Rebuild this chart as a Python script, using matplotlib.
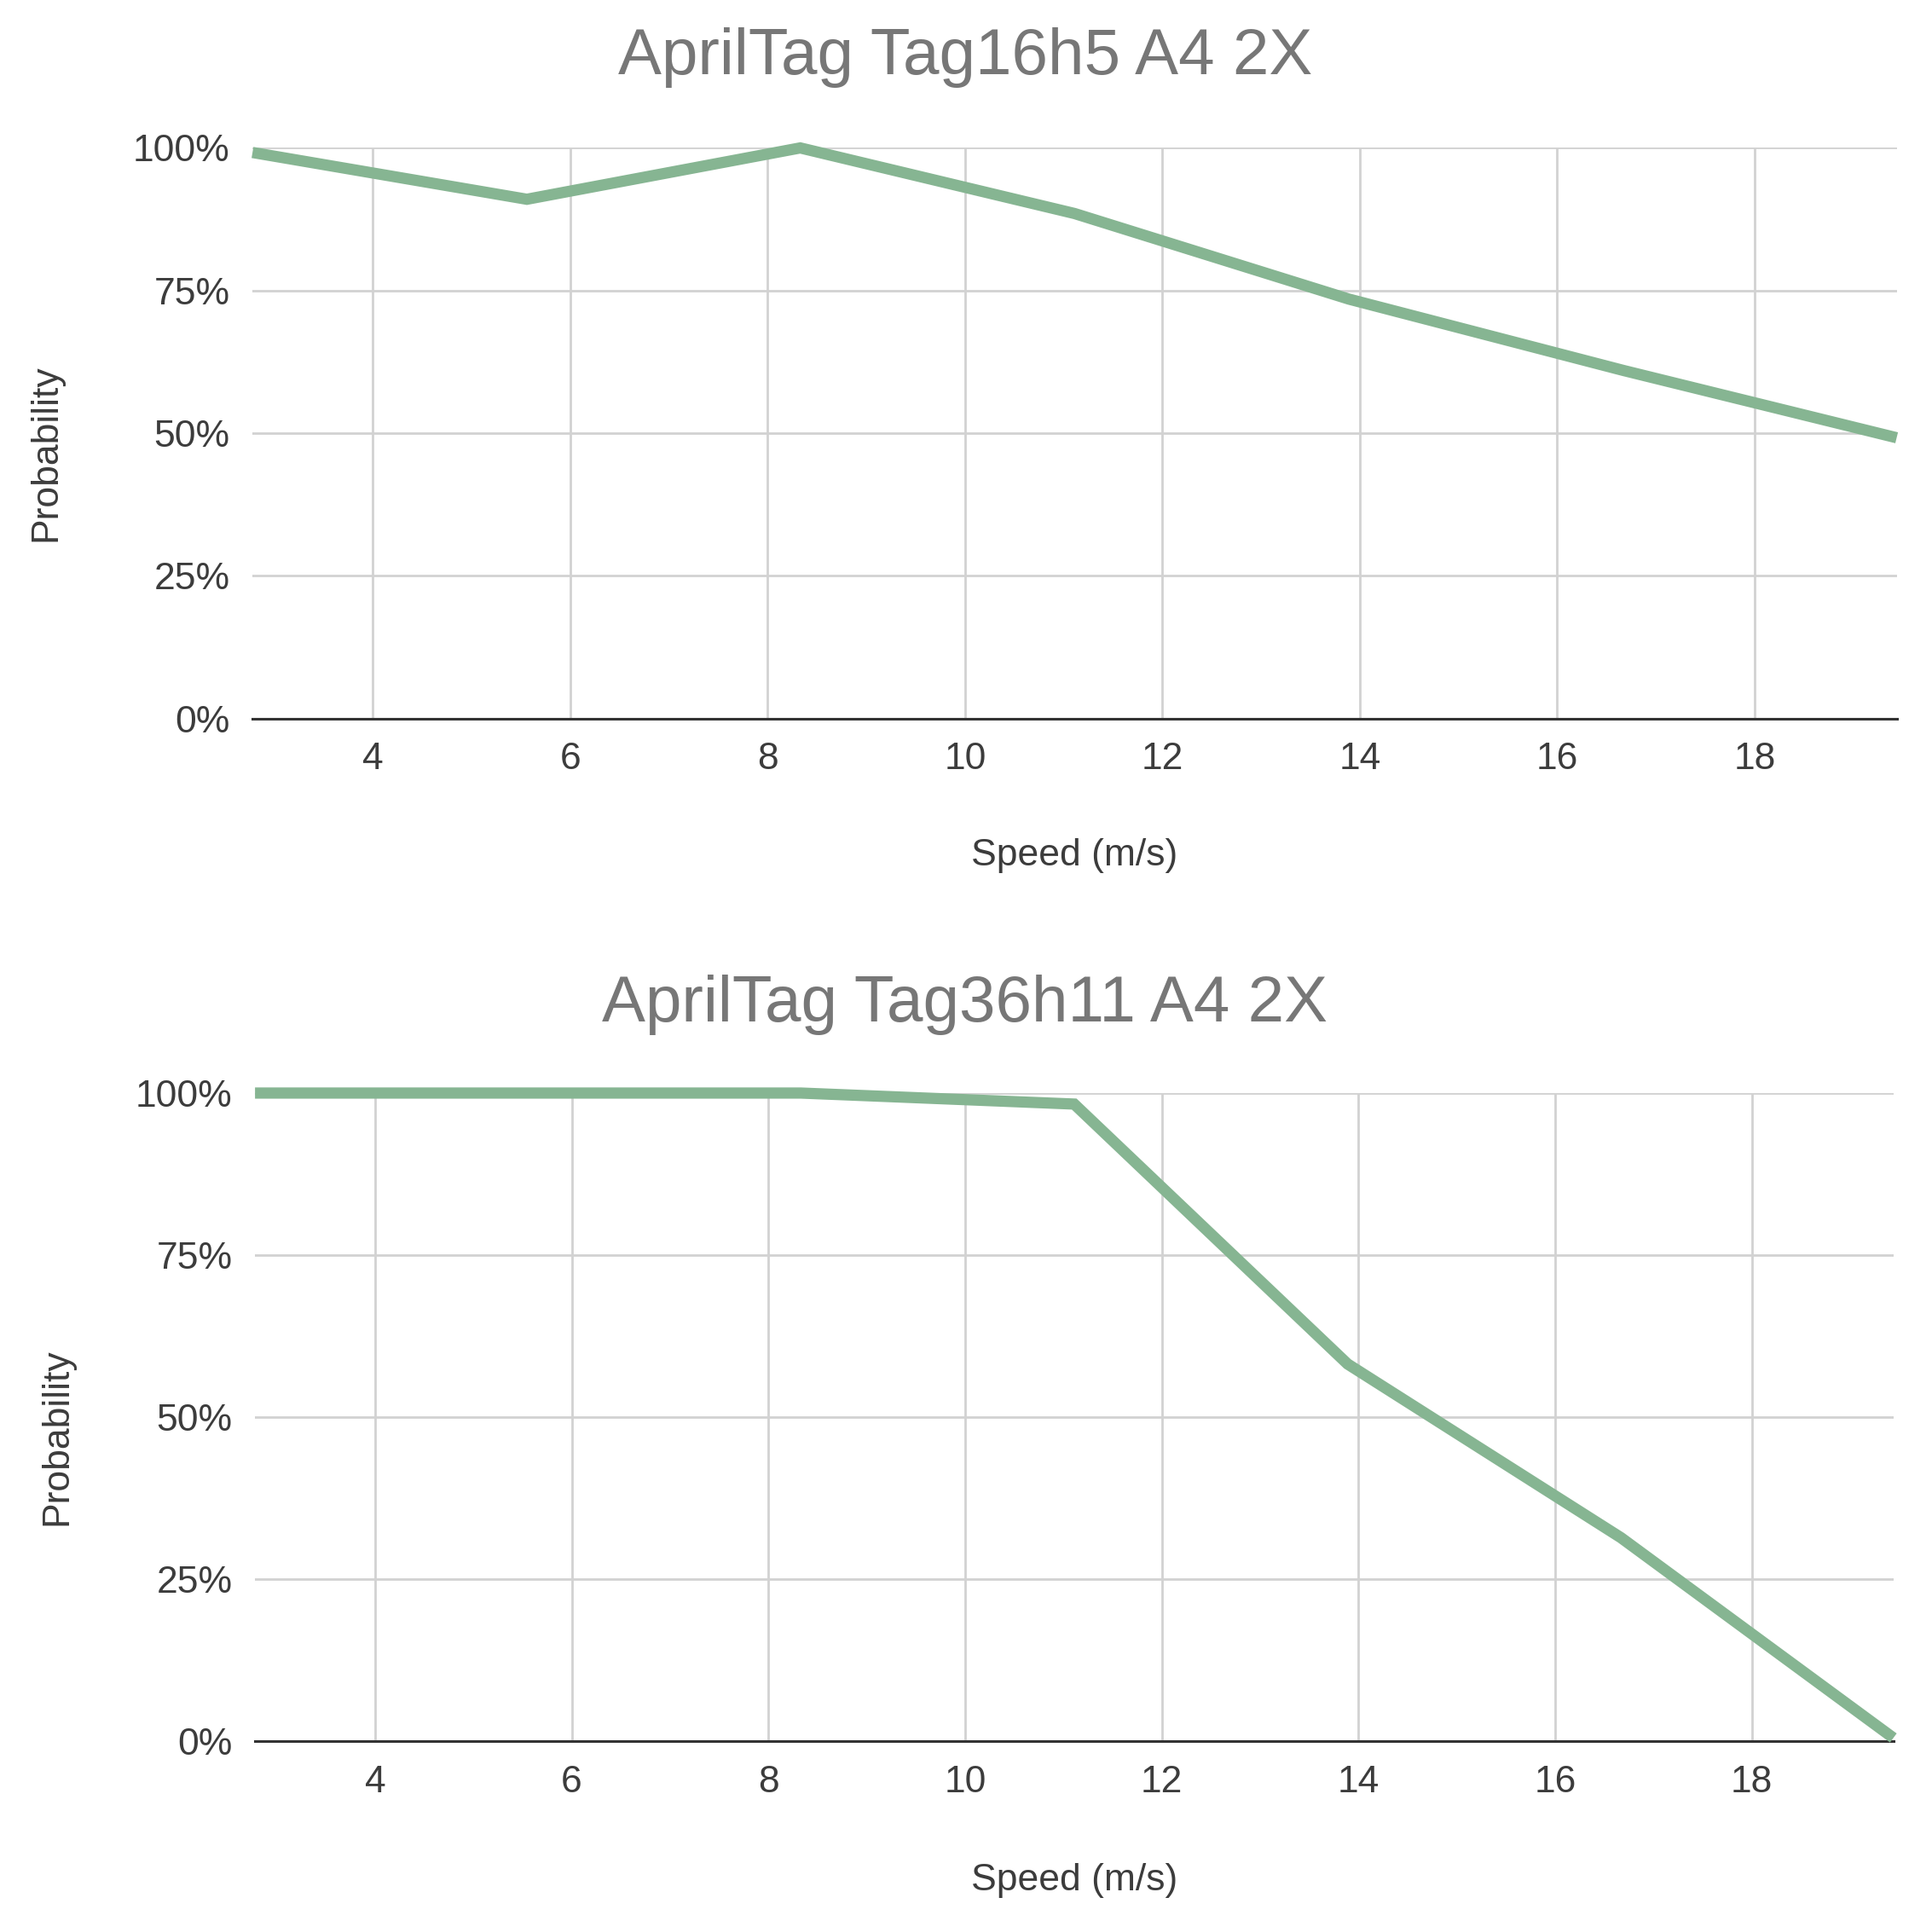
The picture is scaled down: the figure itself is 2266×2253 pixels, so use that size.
import matplotlib.pyplot as plt
from matplotlib.ticker import PercentFormatter

plt.rcParams['font.family'] = ['Liberation Sans', 'DejaVu Sans']

# speeds: 10..70 km/h converted to m/s
speed = [2.78, 5.56, 8.33, 11.11, 13.89, 16.67, 19.44]
prob_16h5 = [99.2, 91.0, 100.0, 88.5, 73.5, 61.0, 49.2]
prob_36h11 = [100.0, 100.0, 100.0, 98.3, 58.2, 31.4, 0.5]

titles = ['AprilTag Tag16h5 A4 2X', 'AprilTag Tag36h11 A4 2X']
xticks = [4, 6, 8, 10, 12, 14, 16, 18]
yticks = [0, 25, 50, 75, 100]

line_col = '#86b592'
grid_col = '#d2d2d2'
text_col = '#3c3c3c'

fig = plt.figure(figsize=(22.66, 22.53), dpi=100)
boxes = [[0.1307, 0.626, 0.851, 0.297], [0.132, 0.0936, 0.848, 0.3374]]
title_y = [0.970, 0.477]
label_x = [-0.115, -0.110]
label_y = [0.466, 0.47]
xlab_y = [-0.21, -0.188]

for i, (data, title) in enumerate(zip([prob_16h5, prob_36h11], titles)):
    ax = fig.add_axes(boxes[i])
    ax.plot(speed, data, color=line_col, lw=9.5, solid_capstyle='butt',
            solid_joinstyle='miter', clip_on=False, zorder=3)
    ax.set_xlim(speed[0], speed[-1])
    ax.set_ylim(0, 100)
    ax.set_xticks(xticks)
    ax.set_yticks(yticks)
    ax.yaxis.set_major_formatter(PercentFormatter(decimals=0))
    ax.tick_params(length=0, labelsize=32, labelcolor=text_col)
    ax.tick_params(axis='x', pad=20)
    ax.tick_params(axis='y', pad=19)
    ax.grid(True, color=grid_col, lw=2)
    ax.set_axisbelow(True)
    for s in ['top', 'right', 'left']:
        ax.spines[s].set_visible(False)
    ax.spines['bottom'].set_color('#333333')
    ax.spines['bottom'].set_linewidth(2.2)
    ax.set_xlabel('Speed (m/s)', fontsize=32, color=text_col)
    ax.xaxis.set_label_coords(0.5, xlab_y[i])
    ax.set_ylabel('Probability', fontsize=32, color=text_col)
    ax.yaxis.set_label_coords(label_x[i], label_y[i])
    fig.text(0.4995, title_y[i], title, fontsize=55, color='#777777',
             ha='center', va='center')

fig.savefig('out.png', dpi=100, facecolor='white')
